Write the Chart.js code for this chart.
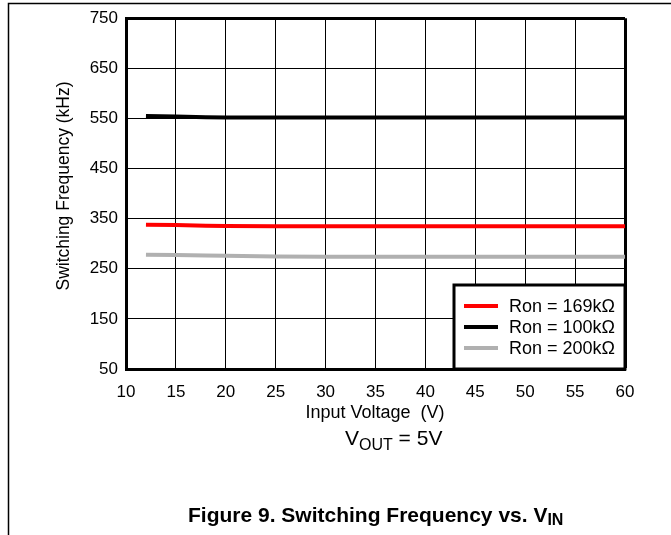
<!DOCTYPE html>
<html>
<head>
<meta charset="utf-8">
<script src="https://cdn.jsdelivr.net/npm/chart.js@4.4.1/dist/chart.umd.min.js"></script>
<style>
  html, body { margin: 0; padding: 0; background: #fff; }
  canvas { display: block; }
</style>
</head>
<body>
<canvas id="freqChart" width="671" height="535"></canvas>
<script>
const FONT = "'Liberation Sans', Arial, sans-serif";

// input voltage (V)
const voltage = [12, 15, 18, 20, 25, 30, 35, 40, 45, 50, 55, 60];
// switching frequency (kHz) per Ron
const ron169 = [338, 337.5, 336, 335.5, 335, 335, 335, 335, 335, 335, 335, 335];
const ron100 = [555, 554, 552.5, 552, 552, 552, 552, 552, 552, 552, 552, 552];
const ron200 = [278, 277.5, 276.5, 276, 274.5, 274, 274, 274, 274, 274, 274, 274];

const seriesLabels = ['Ron = 169k\u03A9', 'Ron = 100k\u03A9', 'Ron = 200k\u03A9'];
const seriesColors = ['#ff0000', '#000000', '#b0b0b0'];

const yTicks = [50, 150, 250, 350, 450, 550, 650, 750];
const xTicks = [10, 15, 20, 25, 30, 35, 40, 45, 50, 55, 60];

function points(ys) {
    return voltage.map((v, i) => ({ x: v, y: ys[i] }));
}

// titles, caption, page frame and the boxed legend
const extras = {
    id: 'extras',
    afterDraw(chart) {
        const ctx = chart.ctx;
        const area = chart.chartArea;
        ctx.save();

        // page frame
        ctx.strokeStyle = '#000';
        ctx.lineWidth = 1.5;
        ctx.beginPath();
        ctx.moveTo(8.5, 535);
        ctx.lineTo(8.5, 3.5);
        ctx.lineTo(671, 3.5);
        ctx.stroke();

        // legend box
        const bw = 171, bh = 84;
        const bx = area.right - bw, by = area.bottom - bh;
        ctx.fillStyle = '#fff';
        ctx.fillRect(bx, by, bw, bh);
        ctx.lineWidth = 3;
        ctx.strokeRect(bx, by, bw, bh);
        ctx.font = '18px ' + FONT;
        ctx.textBaseline = 'middle';
        ctx.textAlign = 'left';
        chart.data.datasets.forEach((ds, i) => {
            const y = by + 21 + i * 21;
            ctx.strokeStyle = ds.borderColor;
            ctx.lineWidth = 4;
            ctx.beginPath();
            ctx.moveTo(bx + 10, y);
            ctx.lineTo(bx + 44, y);
            ctx.stroke();
            ctx.fillStyle = '#000';
            ctx.fillText(ds.label, bx + 55, y + 1);
        });

        ctx.fillStyle = '#000';

        // y title
        ctx.save();
        ctx.translate(64, 186);
        ctx.rotate(-Math.PI / 2);
        ctx.font = '17.5px ' + FONT;
        ctx.textAlign = 'center';
        ctx.textBaseline = 'middle';
        ctx.fillText('Switching Frequency (kHz)', 0, 0);
        ctx.restore();

        // x title
        ctx.font = '18px ' + FONT;
        ctx.textAlign = 'center';
        ctx.textBaseline = 'middle';
        ctx.fillText('Input Voltage  (V)', 375, 413);

        // V_OUT = 5V
        ctx.textAlign = 'left';
        ctx.textBaseline = 'alphabetic';
        let x = 345;
        ctx.font = '21px ' + FONT;
        ctx.fillText('V', x, 445);
        x += ctx.measureText('V').width;
        ctx.font = '16px ' + FONT;
        ctx.fillText('OUT', x, 450);
        x += ctx.measureText('OUT').width;
        ctx.font = '21px ' + FONT;
        ctx.fillText(' = 5V', x, 445);

        // caption
        x = 188;
        ctx.font = 'bold 21px ' + FONT;
        const cap = 'Figure 9. Switching Frequency vs. V';
        ctx.fillText(cap, x, 522);
        x += ctx.measureText(cap).width;
        ctx.font = 'bold 16px ' + FONT;
        ctx.fillText('IN', x, 525);

        ctx.restore();
    }
};

const freqChart = new Chart(document.getElementById('freqChart'), {
    type: 'line',
    data: {
        datasets: [
            { label: seriesLabels[0], data: points(ron169), borderColor: seriesColors[0] },
            { label: seriesLabels[1], data: points(ron100), borderColor: seriesColors[1] },
            { label: seriesLabels[2], data: points(ron200), borderColor: seriesColors[2] }
        ]
    },
    options: {
        responsive: false,
        animation: false,
        events: [],
        layout: { padding: { left: 0, top: 17, right: 46, bottom: 0 } },
        elements: {
            line: { borderWidth: 4, tension: 0, fill: false },
            point: { radius: 0 }
        },
        plugins: {
            legend: { display: false },
            tooltip: { enabled: false }
        },
        scales: {
            x: {
                type: 'linear',
                min: 10,
                max: 60,
                afterFit: s => { s.height = 166; },
                afterBuildTicks: s => { s.ticks = xTicks.map(v => ({ value: v })); },
                ticks: { color: '#000', font: { family: FONT, size: 17 }, padding: 13 },
                grid: {
                    color: '#000',
                    drawTicks: false,
                    lineWidth: c => (c.tick && c.tick.value === 60 ? 3 : 1)
                },
                border: { color: '#000', width: 3 }
            },
            y: {
                min: 50,
                max: 750,
                afterFit: s => { s.width = 126; },
                afterBuildTicks: s => { s.ticks = yTicks.map(v => ({ value: v })); },
                ticks: { color: '#000', font: { family: FONT, size: 17 }, padding: 8 },
                grid: {
                    color: '#000',
                    drawTicks: false,
                    lineWidth: c => (c.tick && c.tick.value === 750 ? 3 : 1)
                },
                border: { color: '#000', width: 3 }
            }
        }
    },
    plugins: [extras]
});
</script>
</body>
</html>
